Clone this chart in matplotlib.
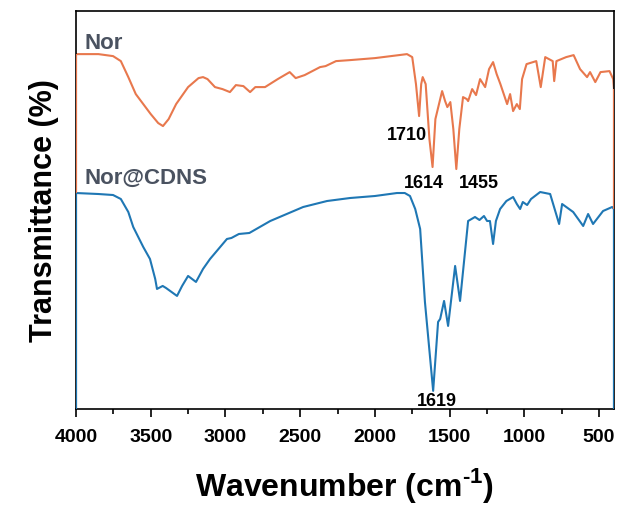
import numpy as np
import matplotlib.pyplot as plt

plt.rcParams['font.family'] = ['Liberation Sans', 'DejaVu Sans']
plt.rcParams['font.weight'] = 'bold'
plt.rcParams['mathtext.fontset'] = 'custom'
plt.rcParams['mathtext.rm'] = 'Liberation Sans:bold'
plt.rcParams['mathtext.bf'] = 'Liberation Sans:bold'

# Nor spectrum (wavenumber, transmittance a.u.)
nor_wn = np.array([4000, 3850, 3752, 3700, 3650, 3600, 3550, 3500, 3450, 3418, 3380, 3330,
                   3250, 3180, 3150, 3120, 3070, 3020, 2970, 2930, 2880, 2835, 2800, 2735,
                   2650, 2570, 2530, 2470, 2367, 2330, 2260, 2166, 2000, 1785, 1750, 1725,
                   1704, 1690, 1680, 1660, 1635, 1614, 1595, 1550, 1530, 1515, 1495, 1475,
                   1455, 1435, 1410, 1385, 1376, 1349, 1323, 1296, 1262, 1236, 1209, 1185,
                   1160, 1115, 1095, 1075, 1050, 1030, 1015, 985, 920, 890, 860, 810, 800,
                   785, 720, 670, 627, 580, 560, 525, 490, 430, 405, 400])
nor_t = np.array([355, 355, 353, 348, 332, 315, 305, 295, 286, 283, 290, 305,
                  322, 331, 332, 330, 322, 320, 317, 324, 323, 317, 322, 322,
                  330, 337, 331, 334, 342, 343, 348, 349, 351, 355, 352, 325,
                  293, 325, 332, 325, 270, 242, 290, 318, 308, 302, 307, 280,
                  240, 280, 312, 310, 308, 320, 314, 330, 322, 340, 347, 335,
                  325, 305, 315, 298, 305, 300, 330, 345, 348, 322, 352, 348, 328,
                  348, 352, 354, 340, 332, 337, 327, 337, 338, 330, 320])

# Nor@CDNS spectrum
cd_wn = np.array([4000, 3850, 3752, 3700, 3650, 3617, 3550, 3505, 3470, 3458, 3420, 3398,
                  3324, 3290, 3250, 3197, 3150, 3103, 2990, 2960, 2910, 2840, 2700, 2480,
                  2320, 2166, 2000, 1852, 1800, 1765, 1730, 1697, 1665, 1610, 1577, 1563,
                  1537, 1510, 1463, 1430, 1376, 1330, 1300, 1270, 1249, 1230, 1209, 1190,
                  1162, 1120, 1075, 1050, 1028, 1010, 981, 955, 894, 827, 767, 747, 673,
                  606, 573, 540, 473, 412, 400])
cd_t = np.array([216, 215, 214, 210, 197, 182, 162, 150, 130, 120, 123, 121,
                 113, 123, 133, 127, 140, 150, 170, 171, 175, 176, 188, 202,
                 208, 211, 213, 216, 216, 213, 200, 180, 107, 18, 87, 90,
                 108, 83, 143, 108, 188, 192, 189, 193, 188, 188, 165, 188,
                 200, 208, 212, 205, 200, 207, 204, 210, 217, 215, 185, 205, 197,
                 183, 195, 185, 198, 202, 200])

peak_labels = ['1710', '1614', '1455', '1619']
nor_color = '#E8784D'
cd_color = '#1F77B4'

fig = plt.figure(figsize=(6.23, 5.06), dpi=100)
ax = fig.add_axes([0.122, 0.19, 0.8635, 0.786])

ax.plot(nor_wn, nor_t, color=nor_color, lw=1.5)
ax.plot(cd_wn, cd_t, color=cd_color, lw=1.5)
# curve ends drop down to the next trace / axis
ax.vlines([nor_wn[0], nor_wn[-1]], [cd_t[0], cd_t[-1]], [nor_t[0], nor_t[-1]],
          color=nor_color, lw=1.6, zorder=3)
ax.vlines([cd_wn[0], cd_wn[-1]], 0, [cd_t[0], cd_t[-1]], color=cd_color, lw=1.6, zorder=3)

ax.set_xlim(4000, 400)
ax.set_ylim(0, 398)
ax.set_xticks(np.arange(4000, 499, -500))
ax.set_xticks(np.arange(3750, 399, -500), minor=True)
ax.set_yticks([])
ax.tick_params(axis='x', which='major', direction='out', length=6, width=1.2,
               labelsize=14, pad=8)
ax.tick_params(axis='x', which='minor', direction='out', length=3.5, width=1.2)
for lbl in ax.get_xticklabels():
    lbl.set_fontweight('bold')
for s in ax.spines.values():
    s.set_linewidth(1.2)

ax.set_xlabel('Wavenumber (cm$^{\\text{-1}}$)', fontsize=23, fontweight='bold', labelpad=14)
ax.set_ylabel('Transmittance (%)', fontsize=22, fontweight='bold', labelpad=12)

ax.text(3940, 361, 'Nor', color='#4A5260', fontsize=16, fontweight='bold')
ax.text(3940, 226, 'Nor@CDNS', color='#4A5260', fontsize=16, fontweight='bold')

ax.text(1785, 275, peak_labels[0], fontsize=13, ha='center', va='center')
ax.text(1670, 227, peak_labels[1], fontsize=13, ha='center', va='center')
ax.text(1305, 227, peak_labels[2], fontsize=13, ha='center', va='center')
ax.text(1585, 8, peak_labels[3], fontsize=13, ha='center', va='center')

fig.savefig('out.png', dpi=100)
